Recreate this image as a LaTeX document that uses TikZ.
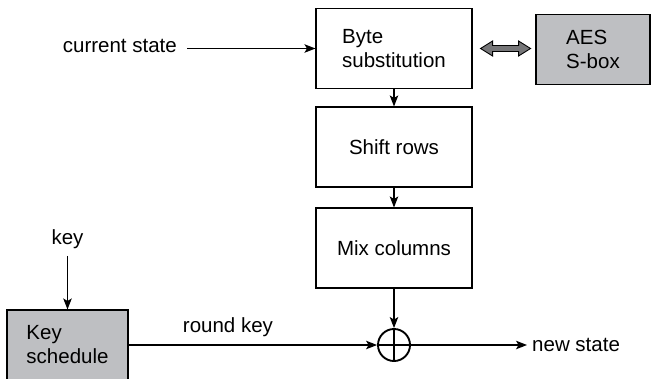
\documentclass[tikz,border=0pt]{standalone}
\usepackage{fontspec}
\setmainfont{Liberation Sans}
\usetikzlibrary{arrows.meta}

\definecolor{boxgray}{RGB}{190,191,194}
\definecolor{arrowgray}{RGB}{118,118,120}

\tikzset{
  stage/.style={draw, line width=1.1pt, minimum width=156pt, minimum height=80pt, align=left, inner sep=0pt},
  lookup/.style={stage, fill=boxgray},
  txt/.style={inner sep=0pt},
  flow/.style={line width=1.1pt, -{Stealth[length=11pt,width=8.5pt,inset=2.5pt]}}
}

\begin{document}
\begin{tikzpicture}[x=1pt, y=-1pt, font=\fontsize{20.5}{24}\selectfont]
  \useasboundingbox (0,0) rectangle (652,378);
  \clip (0,0) rectangle (652,378);

  \node[stage] (bs) at (394,48.5) {Byte\\substitution};
  \node[stage] (sr) at (394,147) {Shift rows};
  \node[stage] (mc) at (394,248) {Mix columns};
  \node[lookup, minimum width=114pt, minimum height=70pt] (sbox) at (593,49.5) {AES\\S-box};
  \node[lookup, minimum width=121pt, minimum height=70pt] (ks) at (67.5,345) {Key\\schedule};
  \node[circle, draw, line width=1.9pt, minimum size=32pt, inner sep=0pt] (xor) at (394,345) {};
  \draw[line width=1.9pt] (xor.north) -- (xor.south) (xor.west) -- (xor.east);

  \node[txt, anchor=east] (cs) at (177,46) {current state};
  \node[txt] (key) at (67.5,239) {key};
  \node[txt, anchor=west] (ns) at (532,345) {new state};

  \draw[flow] ([xshift=10pt]cs.east |- bs.west) -- (bs.west);
  \draw[flow] (bs) -- (sr);
  \draw[flow] (sr) -- (mc);
  \draw[flow] (mc) -- (xor);
  \draw[flow] ([yshift=-7pt]key.south) -- (ks.north);
  \draw[flow] (ks) -- (xor) node[txt, pos=0.4, above=8pt] {round key};
  \draw[flow] (xor) -- ([xshift=-5pt]ns.west);

  % S-box lookup
  \draw[line width=0.9pt, fill=arrowgray] ([xshift=8pt]bs.east) -- ++(12,7.5) -- ++(0,-4.5) -- ++(26,0) -- ++(0,4.5)
    -- ++(12,-7.5) -- ++(-12,-7.5) -- ++(0,4.5) -- ++(-26,0) -- ++(0,-4.5) -- cycle;
\end{tikzpicture}
\end{document}
